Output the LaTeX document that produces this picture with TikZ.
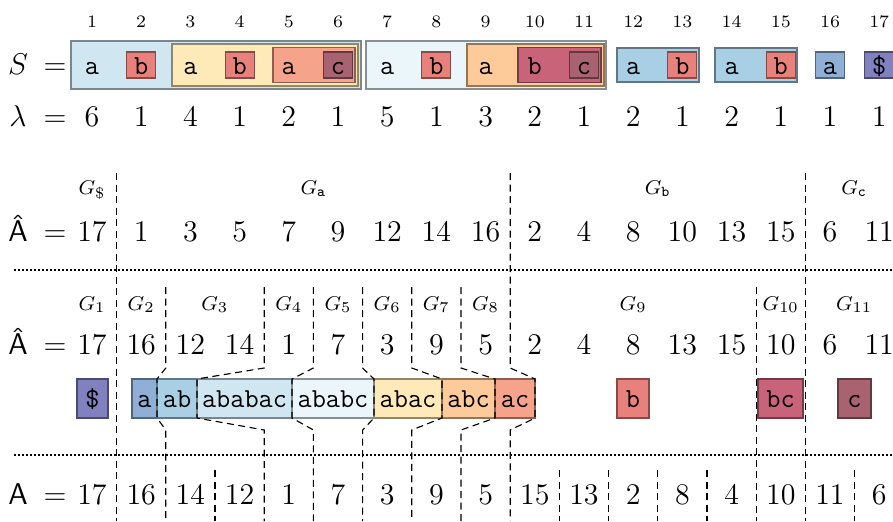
\documentclass[tikz,border=0pt]{standalone}
\usepackage{amsmath}
\usepackage{fontspec}
% palette for the factor strings
\definecolor{cDol}{HTML}{8181C0}
\definecolor{cA}{HTML}{8FAFD6}
\definecolor{cAB}{HTML}{A8CFE3}
\definecolor{cABABAC}{HTML}{D0E7F2}
\definecolor{cABABC}{HTML}{EBF6FB}
\definecolor{cABAC}{HTML}{FEE9B9}
\definecolor{cABC}{HTML}{FDCA99}
\definecolor{cAC}{HTML}{F5A38A}
\definecolor{cB}{HTML}{E8817B}
\definecolor{cBC}{HTML}{C9637A}
\definecolor{cC}{HTML}{A9626F}
\tikzset{
  main/.style={font=\fontsize{12}{14}\selectfont, inner sep=0pt, anchor=base},
  idx/.style={font=\fontsize{7}{8}\selectfont, inner sep=0pt, anchor=base},
  glab/.style={font=\fontsize{8}{9}\selectfont, inner sep=0pt, anchor=base},
  chr/.style={font=\fontsize{11}{13}\selectfont\ttfamily, inner sep=0pt,
              text height=7.2pt, text depth=0pt},
  fillbox/.style={fill=#1, draw=#1!58!black, line width=0.45pt},
  cell/.style={chr, fillbox=#1, outer sep=0pt,
               minimum width=11.6pt, minimum height=10.4pt},
  strbox/.style={chr, fillbox=#1, outer sep=0pt, minimum height=15.6pt},
  wd/.style={minimum width=#1*0.4pt},
  sep/.style={line width=0.45pt, dash pattern=on 2.8pt off 1.8pt},
  rowline/.style={line width=0.8pt, dash pattern=on 0.8pt off 0.8pt},
}
\begin{document}
\begin{tikzpicture}[x=0.4pt,y=-0.4pt]
\useasboundingbox (0,0) rectangle (893,521);

% ---------- text positions 1..17 ----------
\foreach \i in {1,...,17}
  \node[idx] (n\i) at ({92+49.2*(\i-1)},27) {\i};

% ---------- the string S with its nested factors ----------
\node[main] (Slab) at (18,74) {$S$};
\node[main] (Seq)  at (55,74) {$=$};

\draw[fillbox=cABABAC] (71,41) rectangle (361,89);
\draw[fillbox=cABAC]   (172,44) rectangle (358,86);
\draw[fillbox=cAC]     (273,47.5) rectangle (355,82.5);
\draw[fillbox=cABABC]  (366,41) rectangle (606,89);
\draw[fillbox=cABC]    (467,44) rectangle (604,86);
\draw[fillbox=cBC]     (518,47.5) rectangle (601,82.5);
\draw[fillbox=cAB]     (617,48) rectangle (699,82);
\draw[fillbox=cAB]     (715,48) rectangle (797,82);

\foreach \i/\c in {1/a,3/a,5/a,7/a,9/a,10/b,12/a,14/a}
  \node[chr] (s\i) at ({92+49.2*(\i-1)},65) {\c};
\foreach \i/\c/\col in {2/b/cB,4/b/cB,6/c/cC,8/b/cB,11/c/cC,13/b/cB,15/b/cB,16/a/cA}
  \node[cell=\col] (s\i) at ({92+49.2*(\i-1)},65) {\c};
\node[cell=cDol] (s17) at ({92+49.2*16},65) {\$};

% ---------- lambda ----------
\node[main] (Llab) at (18,126) {$\lambda$};
\node[main] (Leq)  at (55,126) {$=$};
\foreach \v [count=\i] in {6,1,4,1,2,1,5,1,3,2,1,2,1,2,1,1,1}
  \node[main] (l\i) at ({92+49.2*(\i-1)},126) {$\v$};

% ---------- first-letter groups ----------
\node[glab] (ga1) at (92,194)    {$G_{\$}$};
\node[glab] (ga2) at (313.4,194) {$G_{\mathtt{a}}$};
\node[glab] (ga3) at (657.8,194) {$G_{\mathtt{b}}$};
\node[glab] (ga4) at (854.2,194) {$G_{\mathtt{c}}$};

\node[main] (H1lab) at (18,241) {\sffamily Â};
\node[main] (H1eq)  at (55,241) {$=$};
\foreach \v [count=\i] in {17,1,3,5,7,9,12,14,16,2,4,8,10,13,15,6,11}
  \node[main] (h\i) at ({92+49.2*(\i-1)},241) {$\v$};

\coordinate (d1a) at (14,270);  \coordinate (d1b) at (893,270);
\draw[rowline] (d1a) -- (d1b);

% ---------- refined groups ----------
\node[glab] (gb1)  at (92,310)    {$G_{1}$};
\node[glab] (gb2)  at (141.2,310) {$G_{2}$};
\node[glab] (gb3)  at (214.8,310) {$G_{3}$};
\node[glab] (gb4)  at (288.8,310) {$G_{4}$};
\node[glab] (gb5)  at (338,310)   {$G_{5}$};
\node[glab] (gb6)  at (387.2,310) {$G_{6}$};
\node[glab] (gb7)  at (436.4,310) {$G_{7}$};
\node[glab] (gb8)  at (485.6,310) {$G_{8}$};
\node[glab] (gb9)  at (633.2,310) {$G_{9}$};
\node[glab] (gb10) at (780.8,310) {$G_{10}$};
\node[glab] (gb11) at (854.2,310) {$G_{11}$};

\node[main] (H2lab) at (18,354) {\sffamily Â};
\node[main] (H2eq)  at (55,354) {$=$};
\foreach \v [count=\i] in {17,16,12,14,1,7,3,9,5,2,4,8,13,15,10,6,11}
  \node[main] (k\i) at ({92+49.2*(\i-1)},354) {$\v$};

% factor strings of the groups
\node[strbox=cDol,    wd=31] (str1)  at (92.5,398.5)  {\$};
\node[strbox=cA,      wd=25] (str2)  at (144.5,398.5) {a};
\node[strbox=cAB,     wd=40] (str3)  at (177,398.5)   {ab};
\node[strbox=cABABAC, wd=95] (str4)  at (244.5,398.5) {ababac};
\node[strbox=cABABC,  wd=82] (str5)  at (333,398.5)   {ababc};
\node[strbox=cABAC,   wd=68] (str6)  at (408,398.5)   {abac};
\node[strbox=cABC,    wd=53] (str7)  at (468.5,398.5) {abc};
\node[strbox=cAC,     wd=40] (str8)  at (515,398.5)   {ac};
\node[strbox=cB,      wd=32] (str9)  at (633,398.5)   {b};
\node[strbox=cBC,     wd=45] (str10) at (780.5,398.5) {bc};
\node[strbox=cC,      wd=33] (str11) at (854.5,398.5) {c};

\coordinate (d2a) at (14,455);  \coordinate (d2b) at (893,455);
\draw[rowline] (d2a) -- (d2b);

% ---------- suffix array ----------
\node[main] (Alab) at (18,504) {\sffamily A};
\node[main] (Aeq)  at (55,504) {$=$};
\foreach \v [count=\i] in {17,16,14,12,1,7,3,9,5,15,13,2,8,4,10,11,6}
  \node[main] (a\i) at ({92+49.2*(\i-1)},504) {$\v$};

% ---------- group separators ----------
% straight ones through all rows
\foreach \x in {116.6,805.4}
  \draw[sep] (\x,173) -- (\x,521);
\draw[sep] (756.2,287) -- (756.2,521);
% bent ones, routed along the borders of the factor boxes
\foreach \x/\b in {165.8/str3,264.2/str4,313.4/str5,362.6/str6,411.8/str7,461/str8}
  \draw[sep] (\x,287) -- (\x,368) -- (\b.north west) -- (\b.south west)
             -- (\x,430) -- (\x,521);
\draw[sep] (510.2,173) -- (510.2,368) -- (str8.north east) -- (str8.south east)
           -- (510.2,430) -- (510.2,521);
% short ones inside groups of the suffix array
\foreach \x in {215,559.4,608.6,657.8,707,854.6}
  \draw[sep] (\x,470) -- (\x,521);
\end{tikzpicture}
\end{document}
